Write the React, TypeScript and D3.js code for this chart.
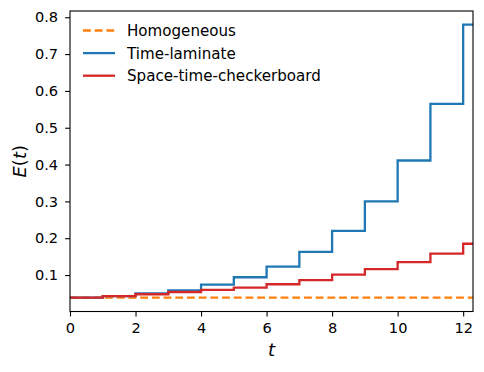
import React, { useEffect, useRef } from "react";
import * as d3 from "d3";

// step values, E(t) on [k, k+1)
const times = [0, 1, 2, 3, 4, 5, 6, 7, 8, 9, 10, 11, 12];
const tEnd = 12.3;
const homogeneous = [0.0385, 0.0385, 0.0385, 0.0385, 0.0385, 0.0385, 0.0385, 0.0385, 0.0385, 0.0385, 0.0385, 0.0385, 0.0385];
const timeLaminate = [0.0385, 0.043, 0.05, 0.0585, 0.074, 0.094, 0.123, 0.163, 0.22, 0.3, 0.411, 0.565, 0.78];
const checkerboard = [0.0385, 0.043, 0.0478, 0.054, 0.0595, 0.066, 0.075, 0.086, 0.101, 0.116, 0.135, 0.158, 0.185];
const xTicks = [0, 2, 4, 6, 8, 10, 12];
const yTicks = [0.1, 0.2, 0.3, 0.4, 0.5, 0.6, 0.7, 0.8];
const seriesNames = ["Homogeneous", "Time-laminate", "Space-time-checkerboard"];
const seriesColors = ["#ff7f0e", "#1f77b4", "#d62728"];

export default function App() {
  const ref = useRef<SVGSVGElement>(null);

  useEffect(() => {
    const W = 484, H = 372;
    const m = { left: 70, right: 11, top: 11, bottom: 60.5 };
    const svg = d3.select(ref.current);
    svg.selectAll("*").remove();
    svg.attr("width", W).attr("height", H);
    svg.append("rect").attr("width", W).attr("height", H).attr("fill", "white");

    const x = d3.scaleLinear().domain([0, tEnd]).range([m.left, W - m.right]);
    const y = d3.scaleLinear().domain([0.001, 0.817]).range([H - m.bottom, m.top]);

    const font = "DejaVu Sans, sans-serif";
    const dash = "7.8,3.9";

    const line = d3.line<[number, number]>()
      .x(d => x(d[0]))
      .y(d => y(d[1]))
      .curve(d3.curveStepAfter);

    const all = [homogeneous, timeLaminate, checkerboard];
    const plot = svg.append("g");
    all.forEach((vals, i) => {
      const pts: [number, number][] = times.map((t, k) => [t, vals[k]]);
      pts.push([tEnd, vals[vals.length - 1]]);
      plot.append("path")
        .attr("d", line(pts))
        .attr("fill", "none")
        .attr("stroke", seriesColors[i])
        .attr("stroke-width", 2.3)
        .attr("stroke-dasharray", i === 0 ? dash : null);
    });

    // axes
    const xAxis = svg.append("g")
      .attr("transform", `translate(0,${H - m.bottom})`)
      .call(d3.axisBottom(x).tickValues(xTicks).tickFormat(d3.format("d")).tickSize(4.9).tickPadding(6.6));
    const yAxis = svg.append("g")
      .attr("transform", `translate(${m.left},0)`)
      .call(d3.axisLeft(y).tickValues(yTicks).tickFormat(d3.format(".1f")).tickSize(4.9).tickPadding(7));
    [xAxis, yAxis].forEach(a => {
      a.select(".domain").remove();
      a.selectAll("line").attr("stroke", "black").attr("stroke-width", 1.1);
      a.selectAll("text").attr("font-family", font).attr("font-size", 14.6).attr("fill", "black");
    });

    // frame
    svg.append("rect")
      .attr("x", m.left).attr("y", m.top)
      .attr("width", W - m.left - m.right).attr("height", H - m.top - m.bottom)
      .attr("fill", "none").attr("stroke", "black").attr("stroke-width", 1.1);

    // labels
    svg.append("text")
      .attr("x", (m.left + W - m.right) / 2).attr("y", 356)
      .attr("text-anchor", "middle")
      .attr("font-family", font).attr("font-size", 18).attr("font-style", "italic")
      .text("t");
    const yl = svg.append("text")
      .attr("transform", `translate(26,${(m.top + H - m.bottom) / 2}) rotate(-90)`)
      .attr("text-anchor", "middle")
      .attr("font-family", font).attr("font-size", 18);
    yl.append("tspan").attr("font-style", "italic").text("E");
    yl.append("tspan").text("(");
    yl.append("tspan").attr("font-style", "italic").text("t");
    yl.append("tspan").text(")");

    // legend
    const lg = svg.append("g");
    seriesNames.forEach((name, i) => {
      const ly = 30.5 + i * 22.6;
      lg.append("line")
        .attr("x1", 83).attr("x2", 115).attr("y1", ly).attr("y2", ly)
        .attr("stroke", seriesColors[i]).attr("stroke-width", 2.3)
        .attr("stroke-dasharray", i === 0 ? dash : null);
      lg.append("text")
        .attr("x", 127).attr("y", ly + 5.7)
        .attr("font-family", font).attr("font-size", 15.1)
        .text(name);
    });
  }, []);

  return <svg ref={ref} style={{ display: "block", position: "absolute", left: 0, top: 0 }} />;
}
